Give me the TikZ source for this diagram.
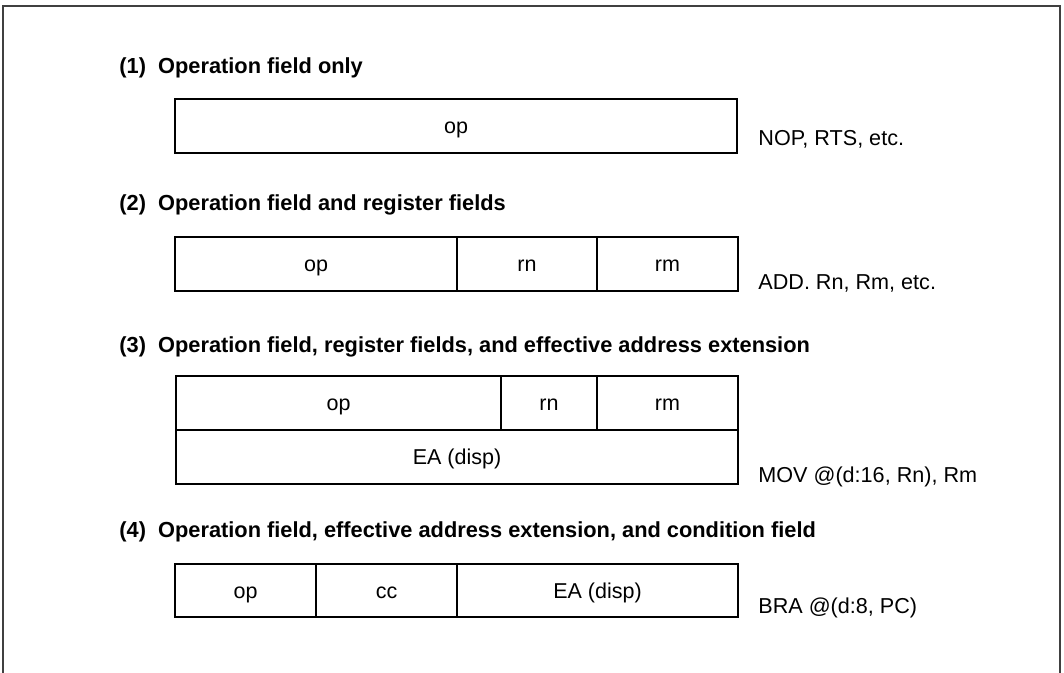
\documentclass[tikz,border=0pt]{standalone}
\usepackage{fontspec}
\setmainfont{Liberation Sans}
\begin{document}
\begin{tikzpicture}[x=0.5pt,y=-0.5pt,
  cell/.style={draw, line width=0.9pt, inner sep=0pt, text height=7.6pt, text depth=0pt, font=\fontsize{10.75}{13}\selectfont},
  ttl/.style={anchor=base west, inner sep=0pt, font=\fontsize{10.9}{13}\selectfont\bfseries},
  side/.style={anchor=base west, inner sep=0pt, font=\fontsize{10.8}{13}\selectfont},
  frame/.style={draw=black!75, line width=1pt}]
\useasboundingbox (0,0) rectangle (1064,673);
\coordinate (fbl) at (3,673);
\coordinate (ftl) at (3,6);
\coordinate (ftr) at (1060,6);
\coordinate (fbr) at (1060,673);
\draw[frame] (fbl) -- (ftl) -- (ftr) -- (fbr);

% (1)
\node[ttl] (t1) at (119,74) {(1)\ \ Operation field only};
\node[cell, minimum width=281pt, minimum height=27pt] (a1) at (456,126) {op};
\node[side] (s1) at (758,146) {NOP, RTS, etc.};

% (2)
\node[ttl] (t2) at (119,211) {(2)\ \ Operation field and register fields};
\node[cell, minimum width=141pt, minimum height=27pt] (b1) at (316,264) {op};
\node[cell, minimum width=70pt, minimum height=27pt] (b2) at (527,264) {rn};
\node[cell, minimum width=70.5pt, minimum height=27pt] (b3) at (667.5,264) {rm};
\node[side] (s2) at (758,290) {ADD. Rn, Rm, etc.};

% (3)
\node[ttl] (t3) at (119,352) {(3)\ \ Operation field, register fields, and effective address extension};
\node[cell, minimum width=162.5pt, minimum height=27pt] (c1) at (338.5,403) {op};
\node[cell, minimum width=48pt, minimum height=27pt] (c2) at (549,403) {rn};
\node[cell, minimum width=70.5pt, minimum height=27pt] (c3) at (667.5,403) {rm};
\node[cell, minimum width=281pt, minimum height=27pt] (c4) at (457,457) {EA (disp)};
\node[side] (s3) at (758,482) {MOV @(d:16, Rn), Rm};

% (4)
\node[ttl] (t4) at (119,537) {(4)\ \ Operation field, effective address extension, and condition field};
\node[cell, minimum width=70.5pt, minimum height=26.5pt] (d1) at (245.5,590.5) {op};
\node[cell, minimum width=70.5pt, minimum height=26.5pt] (d2) at (386.5,590.5) {cc};
\node[cell, minimum width=140.5pt, minimum height=26.5pt] (d3) at (597.5,590.5) {EA (disp)};
\node[side] (s4) at (758,613) {BRA @(d:8, PC)};
\end{tikzpicture}
\end{document}
